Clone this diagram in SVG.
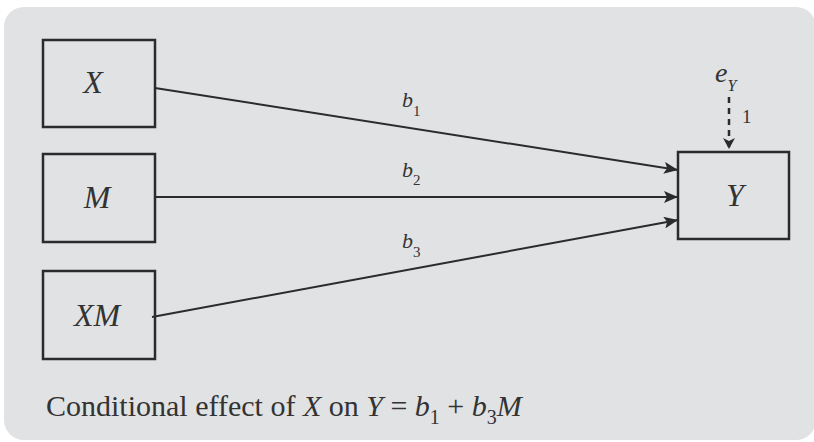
<svg xmlns="http://www.w3.org/2000/svg" width="814" height="442" viewBox="0 0 814 442">
<defs>
<style>
.box{fill:none;stroke:#2b2b2b;stroke-width:2.5}
.path{stroke:#2b2b2b;stroke-width:2;fill:none}
</style>
<marker id="ah" viewBox="0 0 14 12" refX="14" refY="6" markerWidth="14" markerHeight="12" markerUnits="userSpaceOnUse" orient="auto">
<path d="M0,0 L14,6 L0,12 L3,6 Z" fill="#2b2b2b"/>
</marker>
<marker id="ahd" viewBox="0 0 12 11" refX="6" refY="11" markerWidth="12" markerHeight="11" markerUnits="userSpaceOnUse" orient="0">
<path d="M0,0 L6,3 L12,0 L6,11 Z" fill="#2b2b2b"/>
</marker>
</defs>
<rect x="4" y="7" width="812" height="433" rx="20" fill="#e1e2e4"/>
<g id="connectors">
<line class="path" x1="155" y1="88" x2="678" y2="170" marker-end="url(#ah)"/>
<line class="path" x1="155" y1="197" x2="678" y2="197" stroke-width="2.5" marker-end="url(#ah)"/>
<line class="path" x1="152" y1="317" x2="678" y2="220" marker-end="url(#ah)"/>
<line x1="729" y1="97" x2="729" y2="149" stroke="#2b2b2b" stroke-width="2.5" stroke-dasharray="6,5" marker-end="url(#ahd)"/>
<g font-family="Liberation Serif, DejaVu Serif, serif" fill="#333" font-size="22">
<text x="402" y="107"><tspan font-style="italic">b</tspan><tspan font-size="15" dy="9">1</tspan></text>
<text x="402" y="177"><tspan font-style="italic">b</tspan><tspan font-size="15" dy="8">2</tspan></text>
<text x="402" y="248"><tspan font-style="italic">b</tspan><tspan font-size="15" dy="9">3</tspan></text>
<text x="742" y="123" font-size="19">1</text>
</g>
</g>
<g id="node-X">
<rect class="box" x="43" y="40" width="112" height="87"/>
<text x="93" y="93" font-family="Liberation Serif, DejaVu Serif, serif" font-style="italic" font-size="32" fill="#333" text-anchor="middle">X</text>
</g>
<g id="node-M">
<rect class="box" x="43" y="154" width="112" height="88"/>
<text x="97" y="208" font-family="Liberation Serif, DejaVu Serif, serif" font-style="italic" font-size="32" fill="#333" text-anchor="middle">M</text>
</g>
<g id="node-XM">
<rect class="box" x="43" y="271" width="112" height="88"/>
<text x="97" y="326" font-family="Liberation Serif, DejaVu Serif, serif" font-style="italic" font-size="32" fill="#333" text-anchor="middle">XM</text>
</g>
<g id="node-Y">
<rect class="box" x="678" y="152" width="111" height="87"/>
<text x="735" y="206" font-family="Liberation Serif, DejaVu Serif, serif" font-style="italic" font-size="32" fill="#333" text-anchor="middle">Y</text>
</g>
<g id="node-eY">
<text x="715" y="82" font-family="Liberation Serif, DejaVu Serif, serif" font-style="italic" font-size="28" fill="#333">e<tspan font-size="16" dy="9">Y</tspan></text>
</g>
<text x="46" y="416" font-family="Liberation Serif, DejaVu Serif, serif" font-size="30" fill="#333">Conditional effect of <tspan font-style="italic">X</tspan> on <tspan font-style="italic">Y</tspan> = <tspan font-style="italic">b</tspan><tspan font-size="20" dy="8">1</tspan><tspan dy="-8"> + </tspan><tspan font-style="italic">b</tspan><tspan font-size="20" dy="8">3</tspan><tspan font-style="italic" dy="-8">M</tspan></text>
</svg>
